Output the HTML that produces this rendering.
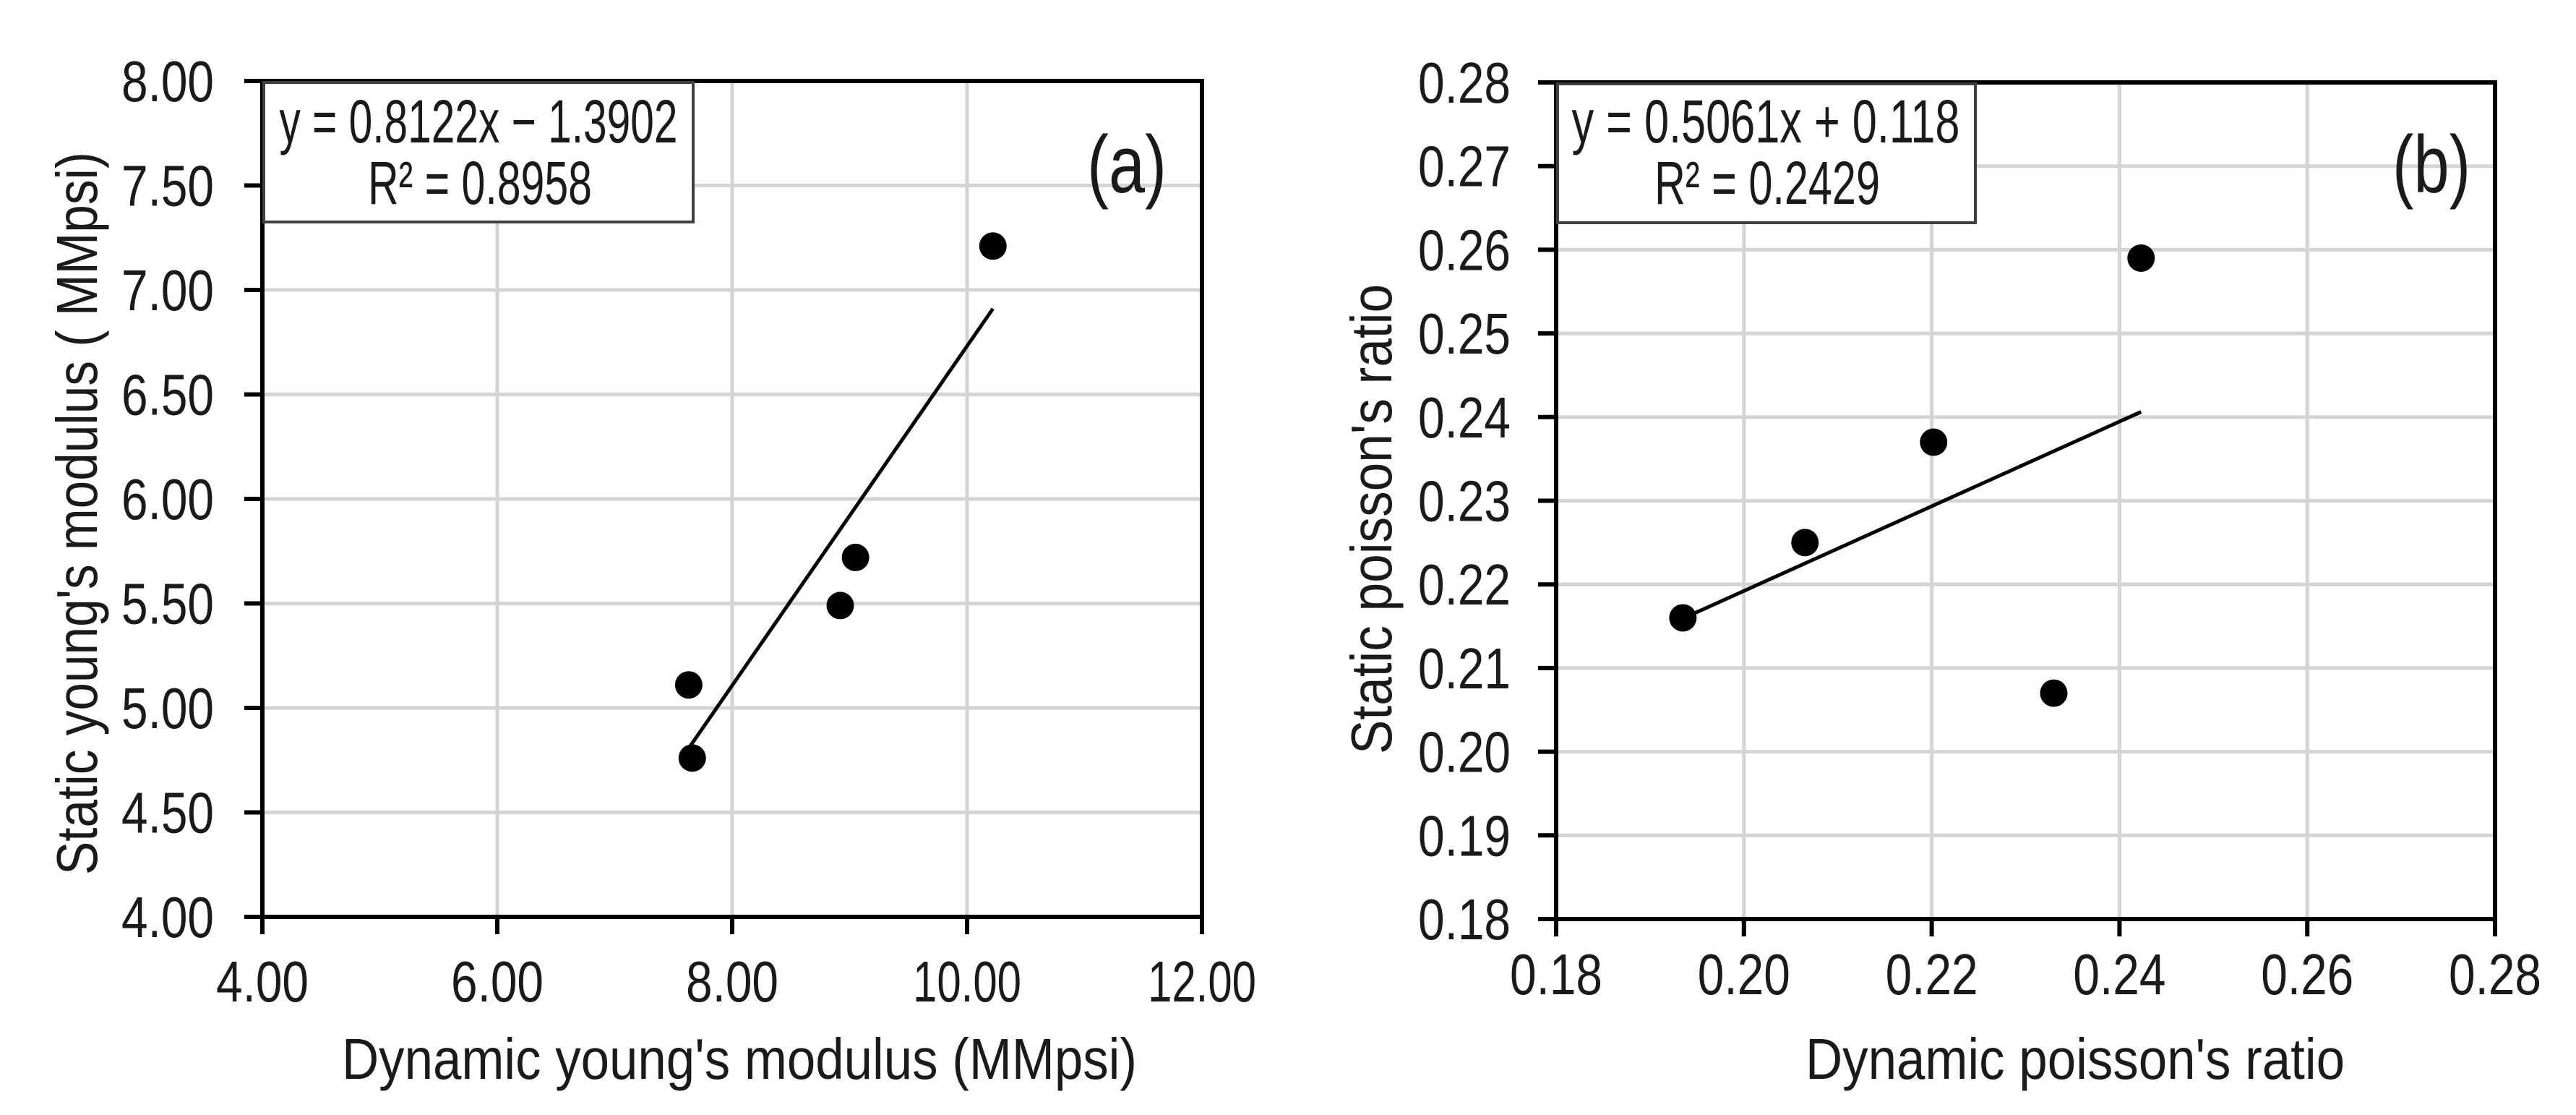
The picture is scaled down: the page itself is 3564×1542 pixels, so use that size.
<!DOCTYPE html>
<html><head><meta charset="utf-8"><style>
html,body{margin:0;padding:0;background:#fff;}
svg{display:block;font-family:"Liberation Sans",Arial,sans-serif;}
</style></head><body>
<svg id="chart" width="3564" height="1542" viewBox="0 0 3564 1542" xmlns="http://www.w3.org/2000/svg">
<rect width="3564" height="1542" fill="#fff"/>
<g id="pa">
  <g id="pa-grid"></g>
  <g id="pa-marks"></g>
  <rect x="365" y="114" width="594" height="193" fill="#fff" stroke="#404040" stroke-width="4"/>
  <text x="662" y="197" font-size="84" text-anchor="middle" textLength="551" lengthAdjust="spacingAndGlyphs" fill="#1a1a1a">y = 0.8122x − 1.3902</text>
  <text x="664" y="282" font-size="84" text-anchor="middle" textLength="310" lengthAdjust="spacingAndGlyphs" fill="#1a1a1a">R² = 0.8958</text>
  <text x="1559" y="266" font-size="112" text-anchor="middle" textLength="110" lengthAdjust="spacingAndGlyphs" fill="#1a1a1a">(a)</text>
  <text x="1023" y="1492" font-size="80" text-anchor="middle" textLength="1100" lengthAdjust="spacingAndGlyphs" fill="#1a1a1a">Dynamic young's modulus (MMpsi)</text>
  <text transform="translate(134,710) rotate(-90)" font-size="80" text-anchor="middle" textLength="1000" lengthAdjust="spacingAndGlyphs" fill="#1a1a1a">Static young's modulus ( MMpsi)</text>
</g>
<g id="pb">
  <g id="pb-grid"></g>
  <g id="pb-marks"></g>
  <rect x="2155" y="116" width="578" height="192" fill="#fff" stroke="#404040" stroke-width="4"/>
  <text x="2443" y="197" font-size="84" text-anchor="middle" textLength="537" lengthAdjust="spacingAndGlyphs" fill="#1a1a1a">y = 0.5061x + 0.118</text>
  <text x="2445" y="282" font-size="84" text-anchor="middle" textLength="312" lengthAdjust="spacingAndGlyphs" fill="#1a1a1a">R² = 0.2429</text>
  <text x="3364" y="266" font-size="112" text-anchor="middle" textLength="108" lengthAdjust="spacingAndGlyphs" fill="#1a1a1a">(b)</text>
  <text x="2871" y="1492" font-size="80" text-anchor="middle" textLength="746" lengthAdjust="spacingAndGlyphs" fill="#1a1a1a">Dynamic poisson's ratio</text>
  <text transform="translate(1925,718) rotate(-90)" font-size="80" text-anchor="middle" textLength="650" lengthAdjust="spacingAndGlyphs" fill="#1a1a1a">Static poisson's ratio</text>
</g>
</svg>
<script>
// Panel (a) data
const aX = [10.22, 9.05, 8.92, 7.63, 7.66];
const aY = [7.21, 5.72, 5.49, 5.11, 4.76];
const aTrend = [7.63, 10.22];
const aSlope = 0.8122;
const aIntercept = -1.3902;
const aXTicks = ["4.00", "6.00", "8.00", "10.00", "12.00"];
const aYTicks = ["4.00", "4.50", "5.00", "5.50", "6.00", "6.50", "7.00", "7.50", "8.00"];
// Panel (b) data
const bX = [0.1935, 0.2065, 0.2202, 0.2330, 0.2423];
const bY = [0.216, 0.225, 0.237, 0.207, 0.259];
const bTrend = [0.1935, 0.2423];
const bSlope = 0.5061;
const bIntercept = 0.118;
const bXTicks = ["0.18", "0.20", "0.22", "0.24", "0.26", "0.28"];
const bYTicks = ["0.18", "0.19", "0.20", "0.21", "0.22", "0.23", "0.24", "0.25", "0.26", "0.27", "0.28"];

const NS = "http://www.w3.org/2000/svg";
function mk(tag, attrs, parent) {
  const e = document.createElementNS(NS, tag);
  for (const k in attrs) e.setAttribute(k, attrs[k]);
  parent.appendChild(e);
  return e;
}
function labW(t) { return t.length > 4 ? 150 : 128; }
function drawPanel(cfg) {
  const g = document.getElementById(cfg.grid);
  const m = document.getElementById(cfg.marks);
  const xmin = parseFloat(cfg.xt[0]), xmax = parseFloat(cfg.xt[cfg.xt.length - 1]);
  const ymin = parseFloat(cfg.yt[0]), ymax = parseFloat(cfg.yt[cfg.yt.length - 1]);
  const sx = v => cfg.L + (v - xmin) / (xmax - xmin) * (cfg.R - cfg.L);
  const sy = v => cfg.B - (v - ymin) / (ymax - ymin) * (cfg.B - cfg.T);
  cfg.yt.forEach((t, i) => {
    const y = sy(parseFloat(t));
    if (i > 0 && i < cfg.yt.length - 1) {
      const gl = mk("line", {x1: cfg.L, x2: cfg.R, y1: y, y2: y, stroke: "#d4d4d4", "stroke-width": 5}, g);
      
      
    }
    const tk = mk("line", {x1: cfg.L - 25, x2: cfg.L, y1: y, y2: y, stroke: "#000", "stroke-width": 6}, g);
    
    
    const tx = mk("text", {x: cfg.ylabR, y: y + 28, "font-size": 80, "text-anchor": "end", textLength: labW(t), lengthAdjust: "spacingAndGlyphs", fill: "#1a1a1a"}, g);
    tx.textContent = t;
    
    
  });
  cfg.xt.forEach((t, i) => {
    const x = sx(parseFloat(t));
    if (i > 0 && i < cfg.xt.length - 1) {
      const gl = mk("line", {x1: x, x2: x, y1: cfg.T, y2: cfg.B, stroke: "#d4d4d4", "stroke-width": 5}, g);
      
      
    }
    const tk = mk("line", {x1: x, x2: x, y1: cfg.B, y2: cfg.B + 24, stroke: "#000", "stroke-width": 6}, g);
    
    
    const tx = mk("text", {x: x, y: cfg.xlabY, "font-size": 80, "text-anchor": "middle", textLength: labW(t), lengthAdjust: "spacingAndGlyphs", fill: "#1a1a1a"}, g);
    tx.textContent = t;
    
    
  });
  const frame = mk("rect", {x: cfg.L, y: cfg.T, width: cfg.R - cfg.L, height: cfg.B - cfg.T, fill: "none", stroke: "#000", "stroke-width": 6}, g);
  
  
  const tl = mk("line", {x1: sx(cfg.trend[0]), y1: sy(cfg.slope * cfg.trend[0] + cfg.icpt), x2: sx(cfg.trend[1]), y2: sy(cfg.slope * cfg.trend[1] + cfg.icpt), stroke: "#000", "stroke-width": 5}, m);
  
  
  cfg.xs.forEach((v, i) => {
    const c = mk("circle", {cx: sx(v), cy: sy(cfg.ys[i]), r: 19, fill: "#000"}, m);
    
    
  });
}
drawPanel({grid: "pa-grid", marks: "pa-marks", L: 363, R: 1663, T: 112, B: 1268, ylabR: 296, xlabY: 1385,
  xt: aXTicks, yt: aYTicks, xs: aX, ys: aY, trend: aTrend, slope: aSlope, icpt: aIntercept});
drawPanel({grid: "pb-grid", marks: "pb-marks", L: 2153, R: 3452, T: 114, B: 1271, ylabR: 2090, xlabY: 1375,
  xt: bXTicks, yt: bYTicks, xs: bX, ys: bY, trend: bTrend, slope: bSlope, icpt: bIntercept});
</script>
</body></html>
